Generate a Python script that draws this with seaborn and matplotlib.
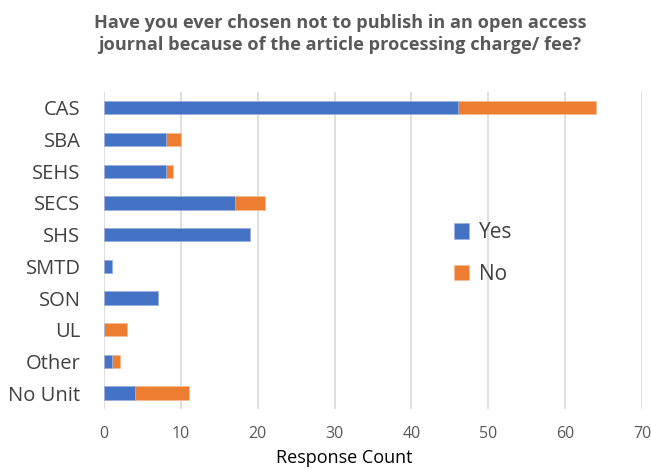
import matplotlib
matplotlib.use("Agg")
import matplotlib.pyplot as plt
import seaborn as sns
import pandas as pd

categories = ["CAS", "SBA", "SEHS", "SECS", "SHS", "SMTD", "SON", "UL", "Other", "No Unit"]
yes_counts = [46, 8, 8, 17, 19, 1, 7, 0, 1, 4]
no_counts = [18, 2, 1, 4, 0, 0, 0, 3, 1, 7]
x_ticks = [0, 10, 20, 30, 40, 50, 60, 70]

sns.set_theme(style="white")
plt.rcParams['font.family'] = ['Open Sans', 'DejaVu Sans']

df = pd.DataFrame({"Unit": categories, "Yes": yes_counts, "No": no_counts})
df["Total"] = df["Yes"] + df["No"]

fig = plt.figure(figsize=(6.51, 4.69), dpi=100)
ax = fig.add_axes([0.16, 0.128, 0.826, 0.676])

blue = "#4472C4"
orange = "#ED7D31"
sns.barplot(data=df, y="Unit", x="Total", color=orange, orient="h", width=0.42,
            ax=ax, label="No", saturation=1, edgecolor="#F6BE98", linewidth=0.6)
sns.barplot(data=df, y="Unit", x="Yes", color=blue, orient="h", width=0.42,
            ax=ax, label="Yes", saturation=1, edgecolor="#9DB5E3", linewidth=0.6)

ax.set_xlim(0, 70)
ax.set_xticks(x_ticks)
ax.grid(axis="x", color="#D9D9D9", linewidth=1.2)
ax.set_axisbelow(True)
for s in ax.spines.values():
    s.set_visible(False)
ax.tick_params(axis="x", labelsize=11.5, labelcolor="#595959", length=0, pad=12)
ax.tick_params(axis="y", labelsize=14.5, labelcolor="#404040", length=0, pad=17)
ax.set_ylabel("")
ax.set_xlabel("Response Count", fontsize=13, color="#000000", va="center")
ax.xaxis.set_label_coords(0.446, -0.155)

handles, labels = ax.get_legend_handles_labels()
order = [labels.index("Yes"), labels.index("No")]
ax.legend([handles[i] for i in order], [labels[i] for i in order],
          loc="center left", bbox_to_anchor=(0.615, 0.49), frameon=False,
          fontsize=15, labelspacing=1.0, handlelength=0.75, handleheight=0.75,
          handletextpad=0.45, labelcolor="#404040")

fig.text(0.522, 0.97, "Have you ever chosen not to publish in an open access\njournal because of the article processing charge/ fee?",
         ha="center", va="top", fontsize=13.1, fontweight="bold", color="#595959",
         linespacing=1.3)

fig.savefig("out.png", dpi=100)
